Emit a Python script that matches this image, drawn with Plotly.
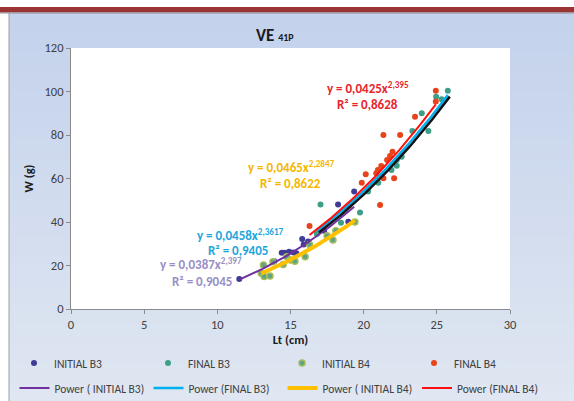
import numpy as np
import plotly.graph_objects as go

# ---------------- data ----------------
ini_b3_x = [11.5, 13.9, 14.4, 14.6, 14.9, 15.2, 15.4, 15.8, 15.9, 16.2, 17.3, 18.25, 18.95, 19.35]
ini_b3_y = [13.8, 22.0, 25.9, 25.9, 26.3, 26.0, 25.6, 32.2, 29.7, 31.0, 36.0, 48.0, 40.1, 54.0]

fin_b3_x = [16.8, 17.05, 18.45, 19.75, 20.3, 21.0, 21.9, 22.26, 22.26, 22.6, 23.33, 23.97, 24.42, 24.95, 25.33, 25.75]
fin_b3_y = [34.5, 48.0, 39.7, 44.4, 54.0, 58.0, 63.9, 65.9, 68.5, 70.0, 81.8, 90.0, 81.8, 97.6, 96.4, 100.4]

ini_b4_x = [13.0, 13.2, 13.6, 13.15, 13.8, 14.5, 14.75, 15.0, 15.3, 16.0, 16.3, 17.5, 17.9, 18.1, 19.4]
ini_b4_y = [16.4, 14.9, 15.2, 20.2, 21.7, 20.5, 24.0, 22.5, 22.0, 24.0, 29.7, 33.7, 31.7, 36.0, 40.0]

fin_b4_x = [16.3, 19.0, 19.87, 20.14, 20.86, 20.97, 21.12, 21.2, 21.35, 21.35, 21.6, 21.8, 21.97, 22.08, 22.49, 23.51, 24.93, 24.93]
fin_b4_y = [38.2, 47.5, 58.1, 62.0, 62.4, 63.9, 47.8, 65.7, 80.0, 60.1, 68.5, 70.3, 72.3, 60.1, 80.0, 88.4, 95.4, 100.4]

# power trendline coefficients  y = a * x^b (as displayed), with R²
fit_ini_b3 = (0.0387, 2.397, 0.9045)
fit_fin_b3 = (0.0458, 2.3617, 0.9405)
fit_ini_b4 = (0.0465, 2.2847, 0.8622)
fit_fin_b4 = (0.0425, 2.395, 0.8628)

x_ticks = [0, 5, 10, 15, 20, 25, 30]
y_ticks = [0, 20, 40, 60, 80, 100, 120]

# ---------------- layout geometry ----------------
W, H = 574, 401
L, R, T, B = 71, 510, 48, 309
pw, ph = R - L, B - T
FONT = "Carlito, Lato, sans-serif"
TXT = "#404040"

def px2x(px):
    return (px - L) / pw * 30

def px2y(py):
    return (B - py) / ph * 120

def trend(xs, fit, n=80):
    a, b, _ = fit
    xx = np.linspace(min(xs), max(xs), n)
    return xx, a * xx ** b

fig = go.Figure()

# scatter series
fig.add_trace(go.Scatter(x=ini_b3_x, y=ini_b3_y, mode="markers", name="INITIAL B3",
                         marker=dict(size=6, color="#3f3c98"), legend="legend"))
fig.add_trace(go.Scatter(x=fin_b3_x, y=fin_b3_y, mode="markers", name="FINAL B3",
                         marker=dict(size=6, color="#3e9f86"), legend="legend2"))
fig.add_trace(go.Scatter(x=ini_b4_x, y=ini_b4_y, mode="markers", name="INITIAL B4",
                         marker=dict(size=6, color="#5fa386", line=dict(color="#a4bc5a", width=1.5)),
                         legend="legend3"))
fig.add_trace(go.Scatter(x=fin_b4_x, y=fin_b4_y, mode="markers", name="FINAL B4",
                         marker=dict(size=6, color="#e8441c"), legend="legend4"))

# trendlines
tx, ty = trend(ini_b3_x, fit_ini_b3)
fig.add_trace(go.Scatter(x=tx, y=ty, mode="lines", name="Power ( INITIAL B3)",
                         line=dict(color="#7030a0", width=2), legend="legend5"))
tx, ty = trend(fin_b3_x, fit_fin_b3)
fig.add_trace(go.Scatter(x=tx, y=ty, mode="lines", showlegend=False, hoverinfo="skip",
                         line=dict(color="#101418", width=2.5), xaxis="x2", yaxis="y2"))
fig.add_trace(go.Scatter(x=tx, y=ty, mode="lines", name="Power (FINAL B3)",
                         line=dict(color="#00b0f0", width=2.5), legend="legend6"))
tx, ty = trend(ini_b4_x, fit_ini_b4)
fig.add_trace(go.Scatter(x=tx, y=ty, mode="lines", name="Power ( INITIAL B4)",
                         line=dict(color="#ffc000", width=4), legend="legend7"))
tx, ty = trend(fin_b4_x, fit_fin_b4)
fig.add_trace(go.Scatter(x=tx, y=ty, mode="lines", name="Power (FINAL B4)",
                         line=dict(color="#ff1010", width=2), legend="legend8"))

# ---------------- background shapes ----------------
shapes = []
def rect(x0, y0, x1, y1, color):
    return dict(type="rect", xref="paper", yref="paper",
                x0=(x0 - L) / pw, x1=(x1 - L) / pw,
                y0=(B - y1) / ph, y1=(B - y0) / ph,
                fillcolor=color, layer="below", line=dict(width=0))

c0 = np.array([0xc4, 0xd2, 0xec])
c1 = np.array([0xe0, 0xe7, 0xf2])
nb = 40
top, bot = 13, 402
for i in range(nb):
    f = i / (nb - 1)
    c = (c0 * (1 - f) + c1 * f).astype(int)
    y0 = top + (bot - top) * i / nb
    y1 = top + (bot - top) * (i + 1) / nb + 1
    shapes.append(rect(9, y0, W + 2, y1, "rgb(%d,%d,%d)" % tuple(c)))
shapes.append(rect(-1, 7, W + 2, 12.5, "#9a3434"))
shapes.append(rect(-1, 12.5, W + 2, 13.5, "#8a8f9a"))
shapes.append(rect(8.5, 13, 9.5, 402, "#9aa0aa"))
shapes.append(rect(L, T, R, B, "#ffffff"))

# ---------------- annotations ----------------
ann = []
def eq(px, py, text, color):
    ann.append(dict(x=px2x(px), y=px2y(py), xref="x", yref="y", text=text, showarrow=False,
                    xanchor="left", yanchor="middle",
                    font=dict(family=FONT, size=13, color=color)))

def eqtxt(fit):
    a, b, _ = fit
    return "<b>y = %sx<sup>%s</sup></b>" % (str(a).replace(".", ","), str(b).replace(".", ","))

def r2txt(fit):
    return "<b>R² = %s</b>" % str(fit[2]).replace(".", ",")

eq(325, 87, eqtxt(fit_fin_b4), "#e8242c")
eq(335, 104, r2txt(fit_fin_b4), "#e8242c")
eq(246, 166, eqtxt(fit_ini_b4), "#f5b700")
eq(258, 183, r2txt(fit_ini_b4), "#f5b700")
eq(195, 234, eqtxt(fit_fin_b3), "#1da6dc")
eq(206, 250, r2txt(fit_fin_b3), "#1da6dc")
eq(158, 263, eqtxt(fit_ini_b3), "#9a8fc4")
eq(170, 281, r2txt(fit_ini_b3), "#9a8fc4")

ann.append(dict(x=(275 - L) / pw, y=(B - 35) / ph, xref="paper", yref="paper", showarrow=False,
                xanchor="center", yanchor="middle",
                text="<b>VE</b> <b><span style='font-size:10px'>41P</span></b>",
                font=dict(family=FONT, size=17, color="#1a1a1a")))

axis_common = dict(showgrid=False, zeroline=False, showline=True, linecolor="#8a8a8a",
                   linewidth=1, ticks="outside", ticklen=4, tickcolor="#8a8a8a",
                   tickfont=dict(family=FONT, size=12.5, color=TXT))

legend_pos = {
    "legend": (14, 363), "legend2": (148, 363), "legend3": (282, 363), "legend4": (414, 363),
    "legend5": (14.5, 388), "legend6": (148.5, 388), "legend7": (282.5, 388), "legend8": (417, 388),
}
legends = {}
for k, (lx, ly) in legend_pos.items():
    legends[k] = dict(orientation="h", xref="container", yref="container",
                      x=lx / W, y=1 - ly / H, xanchor="left", yanchor="middle",
                      itemwidth=30, bgcolor="rgba(0,0,0,0)",
                      font=dict(family=FONT, size=11.5, color=TXT))

fig.update_layout(
    width=W, height=H,
    margin=dict(l=L, r=W - R, t=T, b=H - B, autoexpand=False),
    paper_bgcolor="#ffffff", plot_bgcolor="rgba(0,0,0,0)",
    shapes=shapes, annotations=ann,
    showlegend=True,
    xaxis=dict(range=[0, 30], tickvals=x_ticks, **axis_common,
               title=dict(text="<b>Lt (cm)</b>", font=dict(family=FONT, size=12.5, color="#1a1a1a"),
                          standoff=2)),
    yaxis=dict(range=[0, 120], tickvals=y_ticks, **axis_common,
               title=dict(text="<b>W (g)</b>", font=dict(family=FONT, size=12.5, color="#1a1a1a"),
                          standoff=8)),
    xaxis2=dict(range=[0 - 2.0 / pw * 30, 30 - 2.0 / pw * 30], overlaying="x", visible=False),
    yaxis2=dict(range=[0 + 1.5 / ph * 120, 120 + 1.5 / ph * 120], overlaying="y", visible=False),
    **legends,
)

fig.write_html("out.html")
